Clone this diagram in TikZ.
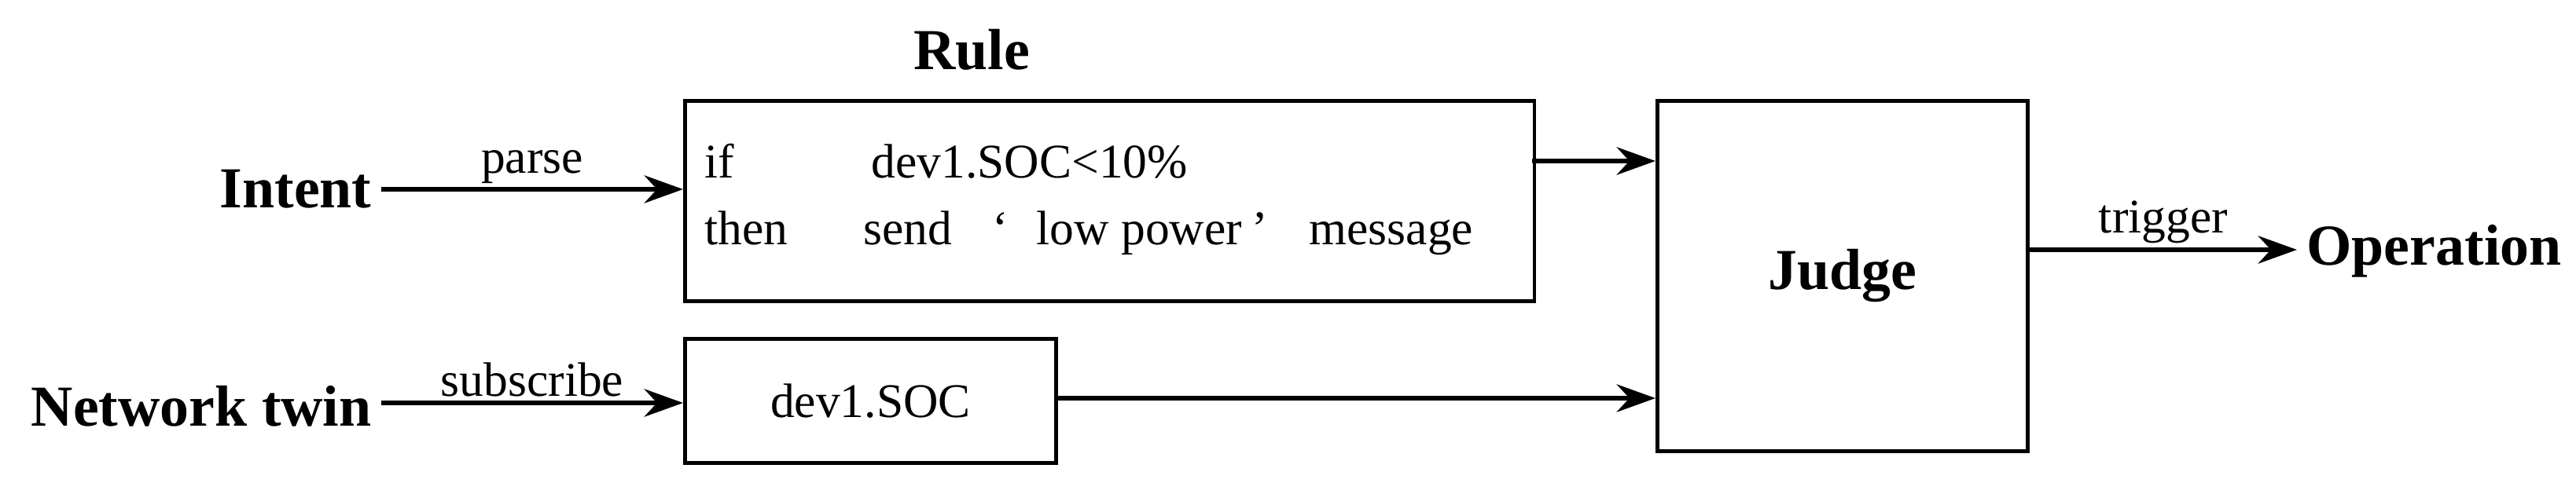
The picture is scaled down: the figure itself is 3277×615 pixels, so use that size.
\documentclass[tikz,border=0pt]{standalone}
\usepackage{fontspec}
\setmainfont{Liberation Serif}
\usetikzlibrary{arrows.meta}
\begin{document}
\begin{tikzpicture}[x=0.01cm,y=-0.01cm,
  box/.style={draw,line width=1.3pt},
  lbl/.style={font=\fontsize{21}{24}\selectfont\bfseries},
  txt/.style={font=\fontsize{17.5}{20}\selectfont,anchor=base west,inner sep=0pt},
  elab/.style={font=\fontsize{17.5}{20}\selectfont},
  arr/.style={-{Stealth[length=14pt,width=10pt]},line width=1.8pt}]
\useasboundingbox (0,0) rectangle (3277,615);
\node[box,minimum width=10.8cm,minimum height=2.55cm,anchor=north west] (rule) at (869,126) {};
\node[box,minimum width=4.72cm,minimum height=1.58cm,anchor=north west,elab] (soc) at (869,429) {dev1.SOC};
\node[box,minimum width=4.71cm,minimum height=4.46cm,anchor=north west,lbl] (judge) at (2106,126) {Judge};
\node[lbl] (rt) at (1236,63) {Rule};
\node[txt] (t1) at (896,226) {if};
\node[txt] (t2) at (1108,226) {dev1.SOC<10\%};
\node[txt] (t3) at (896,311) {then};
\node[txt] (t4) at (1098,311) {send};
\node[txt] (t5) at (1262,311) {‘};
\node[txt] (t5b) at (1318,311) {low power};
\node[txt] (t5c) at (1592,311) {’};
\node[txt] (t6) at (1665,311) {message};
\node[lbl,anchor=east] (intent) at (485,241) {Intent};
\node[lbl,anchor=east] (twin) at (485,517) {Network twin};
\node[lbl,anchor=west] (op) at (2922,320) {Operation};
\coordinate (rj) at (1949,205);
\draw[arr] (intent.east) -- (intent.east -| rule.west) node[midway,above=-2pt,elab] {parse};
\draw[arr] (twin.east |- 0,513) -- (soc.west |- 0,513) node[midway,above=-2pt,elab] {subscribe};
\draw[arr] (rj) -- (rj -| judge.west);
\draw[arr] (soc.east |- 0,507) -- (judge.west |- 0,507);
\draw[arr] (judge.east |- 0,318) -- (op.west |- 0,318) node[midway,above=-2pt,elab] {trigger};
\end{tikzpicture}
\end{document}
